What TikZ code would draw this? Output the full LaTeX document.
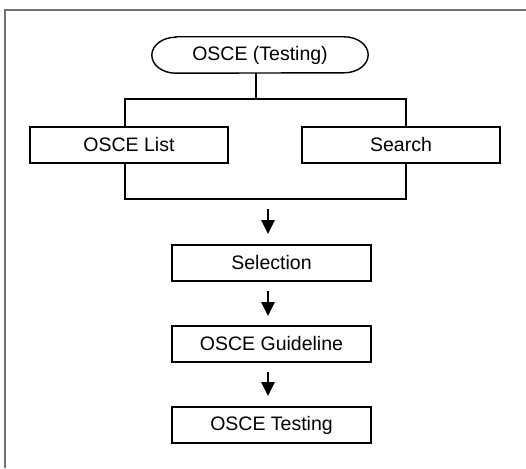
\documentclass[tikz,border=0pt]{standalone}
\usepackage{fontspec}
\setmainfont{Liberation Sans}
\usetikzlibrary{arrows.meta}
\begin{document}
\begin{tikzpicture}[x=1pt,y=-1pt,
  box/.style={draw=black,line width=1.8pt,fill=white,inner sep=0pt,
    font=\fontsize{19.5}{21}\selectfont},
  pill/.style={inner sep=0pt,minimum width=216pt,minimum height=36pt,
    font=\fontsize{19.5}{21}\selectfont},
  conn/.style={line width=2.8pt,line cap=rect},
  arr/.style={line width=2.6pt,-{Triangle[length=14pt,width=13pt]}},
  frame/.style={draw=gray!90!black,line width=1.6pt}]
\useasboundingbox (0,0) rectangle (526,468);
\draw[frame] (5,468) -- (5,10) -- (526,10);
\node[pill] (top) at (260,55) {OSCE (Testing)};
\draw[line width=1.4pt] ([xshift=24pt]top.north west) -- ([xshift=-24pt]top.north east)
  arc[start angle=90,end angle=-90,x radius=24pt,y radius=18pt]
  -- ([xshift=24pt]top.south west)
  arc[start angle=270,end angle=90,x radius=24pt,y radius=18pt] -- cycle;
\node[box,minimum width=198pt,minimum height=36pt] (list) at (129,145) {OSCE List};
\node[box,minimum width=198pt,minimum height=36pt] (search) at (401,145) {Search};
\node[box,minimum width=199pt,minimum height=36pt] (sel) at (271.5,263) {Selection};
\node[box,minimum width=199pt,minimum height=36pt] (guide) at (271.5,344) {OSCE Guideline};
\node[box,minimum width=199pt,minimum height=36pt] (test) at (271.5,425) {OSCE Testing};
\coordinate (tl) at (125,99);
\coordinate (tr) at (406,99);
\coordinate (bl) at (125,199);
\coordinate (br) at (406,199);
\coordinate (a1) at (268,199);
\draw[line width=2.8pt] (top.south -| 256,0) -- (tl -| 256,0);
\draw[conn] (tl) -- (tr);
\draw[line width=2.8pt] (tl) -- (tl |- list.north);
\draw[line width=2.8pt] (tr) -- (tr |- search.north);
\draw[conn] (tl |- list.south) -- (bl) -- (br) -- (br |- search.south);
\draw[arr,shorten <=10pt,shorten >=10pt] (a1) -- (a1 |- sel.north);
\draw[arr,shorten <=9pt,shorten >=9pt] (a1 |- sel.south) -- (a1 |- guide.north);
\draw[arr,shorten <=9pt,shorten >=10pt] (a1 |- guide.south) -- (a1 |- test.north);
\end{tikzpicture}
\end{document}
